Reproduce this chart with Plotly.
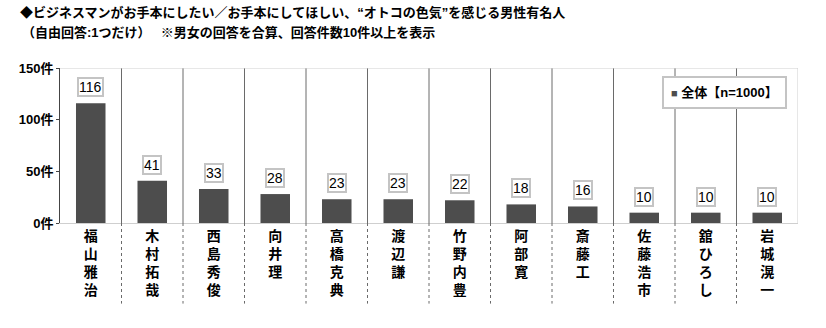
import plotly.graph_objects as go

names = ["福山雅治", "木村拓哉", "西島秀俊", "向井理", "高橋克典", "渡辺謙",
         "竹野内豊", "阿部寛", "斎藤工", "佐藤浩市", "舘ひろし", "岩城滉一"]
values = [116, 41, 33, 28, 23, 23, 22, 18, 16, 10, 10, 10]
series_name = "全体【n=1000】"
y_ticks = [0, 50, 100, 150]
y_tick_labels = ["0件", "50件", "100件", "150件"]
title_line1 = "◆ビジネスマンがお手本にしたい／お手本にしてほしい、“オトコの色気”を感じる男性有名人"
title_line2 = "（自由回答:1つだけ）　&nbsp;※男女の回答を合算、回答件数10件以上を表示"

FONT = "Liberation Sans, Arial, 'Noto Sans CJK JP', sans-serif"
BAR_COLOR = "#4d4d4d"
n = len(names)
xs = list(range(n))

fig = go.Figure()
fig.add_trace(go.Bar(
    x=xs, y=values, name=series_name, width=0.48,
    marker=dict(color=BAR_COLOR, line=dict(width=0)),
    showlegend=False,
))

annotations = []
# value labels in boxes
for i, v in enumerate(values):
    annotations.append(dict(
        x=i, y=v, xref="x", yref="y", text=str(v), showarrow=False,
        yshift=16, font=dict(family=FONT, size=14, color="#000"),
        bgcolor="#ffffff", bordercolor="#c4c4c4", borderwidth=2, borderpad=0,
    ))

# legend box
annotations.append(dict(
    xref="paper", yref="paper", x=(787 - 60) / 738, y=1 - (92 - 68) / 155,
    xanchor="right", yanchor="middle", showarrow=False,
    text=f"<span style='color:{BAR_COLOR};font-size:11px'>■</span> <b>{series_name}</b>",
    font=dict(family=FONT, size=13, color="#000"),
    bgcolor="white", bordercolor="#c4c4c4", borderwidth=2, borderpad=7,
))

# title
annotations.append(dict(xref="paper", yref="paper", x=(18 - 60) / 738, y=1 + (68 - 13) / 155,
                        xanchor="left", yanchor="middle", showarrow=False, text=title_line1,
                        font=dict(family=FONT, size=13, color="#000", weight="bold")))
annotations.append(dict(xref="paper", yref="paper", x=(20 - 60) / 738, y=1 + (68 - 32) / 155,
                        xanchor="left", yanchor="middle", showarrow=False, text=title_line2,
                        font=dict(family=FONT, size=13, color="#000", weight="bold")))

shapes = []
# separators between categories
for i in range(n - 1):
    shapes.append(dict(type="line", xref="x", yref="y", x0=i + 0.5, x1=i + 0.5,
                       y0=0, y1=150, line=dict(color="#6a6a6a", width=1)))
    shapes.append(dict(type="line", xref="x", yref="paper", x0=i + 0.5, x1=i + 0.5,
                       y0=0, y1=-0.52, line=dict(color="#6a6a6a", width=1, dash="dot")))
# frame top and right (light)
shapes.append(dict(type="line", xref="x", yref="y", x0=-0.5, x1=n - 0.5, y0=150, y1=150,
                   line=dict(color="#cfcfcf", width=1)))
shapes.append(dict(type="line", xref="x", yref="y", x0=n - 0.5, x1=n - 0.5, y0=0, y1=150,
                   line=dict(color="#cfcfcf", width=1)))

fig.update_layout(
    width=826, height=328,
    margin=dict(l=60, r=28, t=68, b=105),
    paper_bgcolor="white", plot_bgcolor="white",
    font=dict(family=FONT, color="#000"),
    shapes=shapes,
    annotations=annotations,
    showlegend=False,
    xaxis=dict(
        range=[-0.5, n - 0.5], tickvals=xs,
        ticktext=["<br>".join(list(s)) for s in names],
        tickfont=dict(family=FONT, size=14, color="#000", weight="bold"),
        showgrid=False, zeroline=False, showline=True, linecolor="#cfcfcf", linewidth=1,
        ticks="", fixedrange=True,
    ),
    yaxis=dict(
        range=[0, 150], tickvals=y_ticks, ticktext=y_tick_labels,
        tickfont=dict(family=FONT, size=13, color="#000", weight="bold"),
        showgrid=False, zeroline=False, showline=True, linecolor="#444", linewidth=1,
        ticks="outside", ticklen=3, tickcolor="#444",
    ),
)

fig.write_html("out.html")
